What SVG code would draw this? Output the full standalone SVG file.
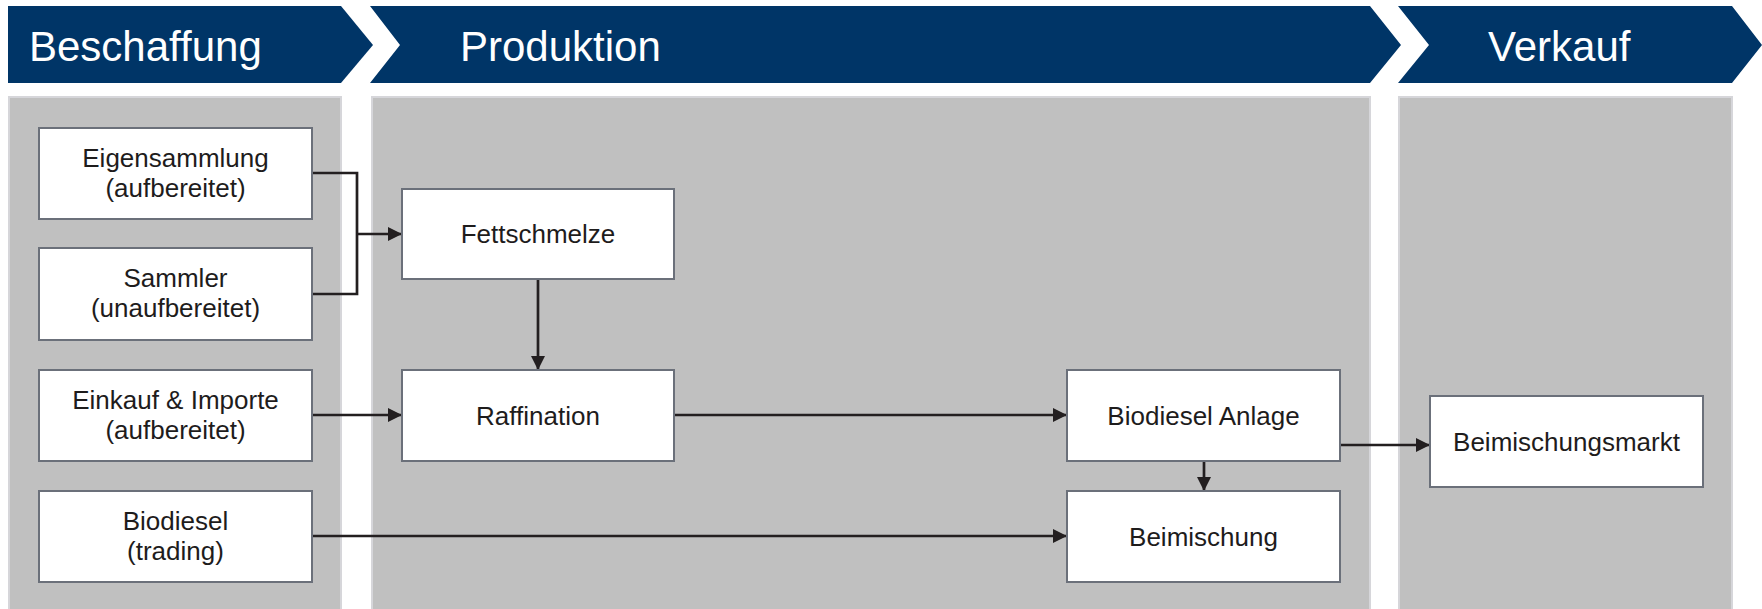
<svg xmlns="http://www.w3.org/2000/svg" width="1762" height="609" viewBox="0 0 1762 609">
<defs>
<style>
.hdr{fill:#003567}
.htxt{fill:#ffffff;font-family:"Liberation Sans",Arial,sans-serif;font-size:42px}
.panel{fill:#c0c0c0;stroke:#d6d6da;stroke-width:2}
.box{fill:#ffffff;stroke:#6b707a;stroke-width:2}
.ntxt{fill:#1e1c1c;font-family:"Liberation Sans",Arial,sans-serif;font-size:26px;text-anchor:middle}
.conn{fill:none;stroke:#231f20;stroke-width:2.7}
</style>
<marker id="arr" viewBox="0 0 10 10" refX="10" refY="5" markerWidth="15" markerHeight="14" markerUnits="userSpaceOnUse" orient="auto">
<path d="M0,0 L10,5 L0,10 Z" fill="#231f20"/>
</marker>
</defs>
<rect width="1762" height="609" fill="#ffffff"/>
<g id="headers">
<polygon class="hdr" points="8,6 341,6 373,45 341,83 8,83"/>
<polygon class="hdr" points="370,6 1370,6 1401,45 1370,83 370,83 400,45"/>
<polygon class="hdr" points="1398,6 1732,6 1762,45 1732,83 1398,83 1429,45"/>
<text class="htxt" x="29" y="61">Beschaffung</text>
<text class="htxt" x="460" y="61">Produktion</text>
<text class="htxt" x="1488" y="61">Verkauf</text>
</g>
<g id="panels">
<rect class="panel" x="9" y="97" width="332" height="514"/>
<rect class="panel" x="372" y="97" width="998" height="514"/>
<rect class="panel" x="1399" y="97" width="333" height="514"/>
</g>
<g id="connectors">
<path class="conn" d="M312,173 H357 V294 H312"/>
<path class="conn" d="M357,234 H402" marker-end="url(#arr)"/>
<path class="conn" d="M538,279 V370" marker-end="url(#arr)"/>
<path class="conn" d="M312,415 H402" marker-end="url(#arr)"/>
<path class="conn" d="M674,415 H1067" marker-end="url(#arr)"/>
<path class="conn" d="M312,536 H1067" marker-end="url(#arr)"/>
<path class="conn" d="M1204,461 V491" marker-end="url(#arr)"/>
<path class="conn" d="M1340,445 H1430" marker-end="url(#arr)"/>
</g>
<g id="eigensammlung">
<rect class="box" x="39" y="128" width="273" height="91"/>
<text class="ntxt" x="175.5" y="167">Eigensammlung</text>
<text class="ntxt" x="175.5" y="197">(aufbereitet)</text>
</g>
<g id="sammler">
<rect class="box" x="39" y="248" width="273" height="92"/>
<text class="ntxt" x="175.5" y="287">Sammler</text>
<text class="ntxt" x="175.5" y="317">(unaufbereitet)</text>
</g>
<g id="einkauf">
<rect class="box" x="39" y="370" width="273" height="91"/>
<text class="ntxt" x="175.5" y="409">Einkauf &amp; Importe</text>
<text class="ntxt" x="175.5" y="439">(aufbereitet)</text>
</g>
<g id="biodiesel-trading">
<rect class="box" x="39" y="491" width="273" height="91"/>
<text class="ntxt" x="175.5" y="530">Biodiesel</text>
<text class="ntxt" x="175.5" y="560">(trading)</text>
</g>
<g id="fettschmelze">
<rect class="box" x="402" y="189" width="272" height="90"/>
<text class="ntxt" x="538" y="243">Fettschmelze</text>
</g>
<g id="raffination">
<rect class="box" x="402" y="370" width="272" height="91"/>
<text class="ntxt" x="538" y="425">Raffination</text>
</g>
<g id="biodiesel-anlage">
<rect class="box" x="1067" y="370" width="273" height="91"/>
<text class="ntxt" x="1203.5" y="425">Biodiesel Anlage</text>
</g>
<g id="beimischung">
<rect class="box" x="1067" y="491" width="273" height="91"/>
<text class="ntxt" x="1203.5" y="546">Beimischung</text>
</g>
<g id="beimischungsmarkt">
<rect class="box" x="1430" y="396" width="273" height="91"/>
<text class="ntxt" x="1566.5" y="451">Beimischungsmarkt</text>
</g>
</svg>
